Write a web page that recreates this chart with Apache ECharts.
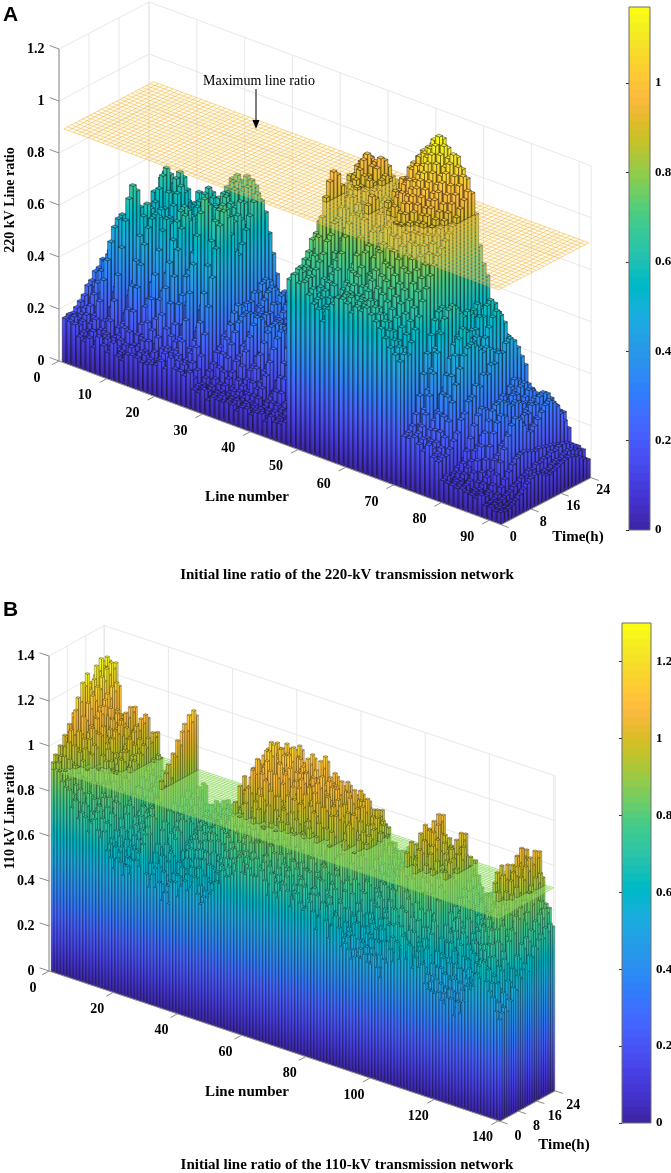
<!DOCTYPE html>
<html>
<head>
<meta charset="utf-8">
<title>Initial line ratio</title>
<script src="https://cdn.jsdelivr.net/npm/echarts@6.0.0/dist/echarts.min.js"></script>
<style>
  html, body { margin: 0; padding: 0; background: #fff; }
  #main { width: 671px; height: 1173px; }
</style>
</head>
<body>
<div id="main"></div>
<script>
// ---------- data ----------
var timeTicks = [0, 8, 16, 24];

// panel A : 220-kV network, 92 lines
var lineTicksA = [0, 10, 20, 30, 40, 50, 60, 70, 80, 90];
var ratioTicksA = [0, 0.2, 0.4, 0.6, 0.8, 1, 1.2];
var colorTicksA = [0, 0.2, 0.4, 0.6, 0.8, 1];
// daily peak ratio of each line
var peakA = [
  0.40,0.44,0.36,0.47,0.52,0.56,0.63,0.66,0.60,0.65,
  0.61,0.57,0.55,0.60,0.58,0.63,0.60,0.64,0.62,0.66,
  0.70,0.72,0.71,0.73,0.72,0.70,0.69,0.36,0.33,0.35,
  0.32,0.34,0.31,0.33,0.30,0.34,0.32,0.35,0.31,0.33,
  0.30,0.34,0.32,0.36,0.33,0.30,0.34,0.95,0.98,1.00,
  0.97,0.99,0.93,0.86,0.80,0.88,0.92,0.96,1.02,1.05,
  1.08,1.10,1.12,1.15,1.17,1.14,1.10,1.12,1.08,1.05,
  1.00,0.62,0.58,0.64,0.60,0.55,0.58,0.52,0.48,0.33,
  0.30,0.33,0.31,0.34,0.30,0.32,0.29,0.31,0.18,0.15,
  0.13,0.12
];
// ratio of each line at hour 0 (front row)
var nightA = [
  0.17,0.16,0.15,0.12,0.11,0.12,0.10,0.12,0.11,0.10,
  0.12,0.10,0.09,0.11,0.10,0.12,0.10,0.11,0.09,0.12,
  0.13,0.12,0.14,0.12,0.13,0.12,0.11,0.08,0.07,0.08,
  0.06,0.08,0.07,0.06,0.08,0.07,0.06,0.08,0.07,0.06,
  0.08,0.07,0.06,0.08,0.07,0.06,0.08,0.64,0.66,0.62,
  0.65,0.60,0.58,0.55,0.52,0.58,0.60,0.62,0.64,0.62,
  0.60,0.63,0.61,0.64,0.62,0.60,0.58,0.55,0.52,0.50,
  0.48,0.20,0.18,0.21,0.19,0.17,0.18,0.16,0.15,0.08,
  0.07,0.08,0.07,0.08,0.06,0.07,0.06,0.07,0.05,0.05,
  0.04,0.04
];
// hourly load shapes (0 = night level, 1 = peak)
var shapesA = [
  [0.00,0.03,0.02,0.08,0.15,0.22,0.35,0.40,0.52,0.55,0.66,0.62,0.74,0.72,0.81,0.80,0.90,0.88,0.97,1.00,0.95,0.85,0.72,0.60],
  [0.05,0.00,0.04,0.12,0.25,0.42,0.60,0.78,0.92,1.00,0.95,0.82,0.70,0.66,0.72,0.80,0.88,0.96,1.00,0.94,0.85,0.70,0.55,0.40],
  [0.02,0.06,0.00,0.04,0.10,0.08,0.18,0.30,0.26,0.40,0.48,0.45,0.58,0.66,0.62,0.75,0.84,0.80,0.92,1.00,0.96,0.88,0.76,0.70],
  [0.00,0.02,0.06,0.15,0.30,0.48,0.65,0.80,0.92,0.98,1.00,0.96,0.90,0.85,0.88,0.84,0.80,0.78,0.74,0.70,0.62,0.50,0.38,0.25],
  [0.00,0.04,0.02,0.10,0.18,0.26,0.36,0.44,0.52,0.58,0.64,0.68,0.72,0.76,0.80,0.85,0.90,0.95,1.00,0.97,0.80,0.55,0.40,0.30]
];
// which hourly shape each line follows
var shapeOfLineA = [
  0,2,1,0,3,2,0,1,2,0,
  1,3,0,2,1,0,2,3,1,0,
  2,0,1,2,0,3,1,0,2,1,
  3,0,2,1,0,2,3,0,1,2,
  0,1,3,2,0,1,2,0,2,1,
  0,2,0,1,2,0,2,1,0,2,
  0,0,2,4,4,4,4,4,4,4,
  4,3,1,3,0,3,1,3,0,2,
  1,0,2,3,1,0,2,1,3,0,
  2,1
];
var limitA = 0.9;

// panel B : 110-kV network, 140 lines
var lineTicksB = [0, 20, 40, 60, 80, 100, 120, 140];
var ratioTicksB = [0, 0.2, 0.4, 0.6, 0.8, 1, 1.2, 1.4];
var colorTicksB = [0, 0.2, 0.4, 0.6, 0.8, 1, 1.2];
var peakB = [
  1.22,1.28,1.30,1.27,1.18,1.12,1.05,1.08,1.02,1.10,
  1.06,0.98,1.04,1.08,1.00,0.95,1.02,0.92,0.86,0.82,
  0.88,0.84,0.80,0.86,0.83,0.88,0.90,0.85,1.17,0.84,
  0.80,0.86,0.78,0.82,0.76,0.80,0.74,0.78,0.82,0.80,
  0.78,0.82,0.76,0.80,0.84,0.88,0.86,0.82,0.90,0.98,
  1.04,1.08,1.12,1.10,1.15,1.18,1.12,1.16,1.20,1.14,
  1.10,1.17,1.19,1.12,1.08,1.15,1.10,1.06,1.12,1.16,
  1.09,1.04,1.10,1.13,1.07,1.02,1.08,1.11,1.05,1.00,
  1.06,1.09,1.03,0.98,1.04,1.07,1.01,0.96,1.00,0.97,
  0.88,0.85,0.90,0.86,0.82,0.88,0.84,0.80,0.86,0.83,
  0.90,1.00,0.92,1.04,0.95,1.08,0.98,1.06,0.94,1.02,
  0.90,0.98,1.03,0.88,0.96,1.00,0.86,0.82,0.78,0.84,
  0.80,0.76,0.82,0.79,0.74,0.80,0.77,0.83,0.95,1.00,
  0.92,1.05,0.98,1.08,1.02,1.06,0.96,0.90,0.82,0.75
];
var nightB = [
  0.93,0.90,0.88,0.86,0.84,0.80,0.76,0.78,0.72,0.75,
  0.70,0.66,0.72,0.74,0.68,0.64,0.70,0.62,0.58,0.55,
  0.60,0.56,0.52,0.58,0.55,0.60,0.62,0.57,0.70,0.56,
  0.52,0.58,0.50,0.54,0.48,0.52,0.46,0.55,0.58,0.52,
  0.56,0.60,0.54,0.58,0.62,0.56,0.52,0.50,0.54,0.58,
  0.60,0.62,0.64,0.66,0.68,0.66,0.70,0.72,0.74,0.70,
  0.72,0.75,0.70,0.68,0.73,0.76,0.70,0.66,0.72,0.68,
  0.64,0.70,0.73,0.66,0.62,0.68,0.71,0.65,0.60,0.66,
  0.69,0.63,0.58,0.64,0.67,0.61,0.56,0.62,0.65,0.58,
  0.54,0.56,0.52,0.50,0.48,0.52,0.50,0.54,0.51,0.47,
  0.53,0.50,0.46,0.52,0.49,0.60,0.55,0.62,0.57,0.64,
  0.58,0.63,0.55,0.60,0.52,0.56,0.50,0.48,0.46,0.43,
  0.48,0.45,0.42,0.47,0.44,0.40,0.45,0.42,0.48,0.50,
  0.52,0.56,0.62,0.58,0.64,0.60,0.56,0.52,0.48,0.45
];
var shapesB = [
  [0.00,0.10,0.05,0.20,0.15,0.32,0.28,0.45,0.40,0.58,0.52,0.70,0.62,0.75,0.68,0.82,0.78,0.90,0.84,0.96,0.88,1.00,0.92,0.97],
  [0.05,0.00,0.18,0.10,0.30,0.42,0.35,0.60,0.72,0.66,0.85,0.80,0.92,0.75,0.70,0.82,0.95,0.88,1.00,0.90,0.78,0.86,0.72,0.80],
  [0.00,0.08,0.14,0.06,0.22,0.18,0.36,0.30,0.50,0.44,0.55,0.62,0.48,0.70,0.66,0.80,0.74,0.86,0.92,0.84,0.98,0.90,1.00,0.94],
  [0.10,0.04,0.00,0.12,0.26,0.20,0.40,0.55,0.48,0.65,0.78,0.72,0.88,0.96,0.90,1.00,0.85,0.80,0.92,0.76,0.70,0.84,0.66,0.74]
];
var shapeOfLineB = [
  0,2,1,0,2,3,0,1,2,0,
  3,1,0,2,1,3,0,2,1,0,
  2,3,1,0,2,1,0,3,2,1,
  0,2,3,1,0,2,1,3,0,2,
  1,0,3,2,1,0,2,3,1,0,
  2,1,0,3,2,1,0,2,3,1,
  0,2,1,3,0,2,1,0,3,2,
  1,0,2,3,1,0,2,1,3,0,
  2,1,0,2,3,1,0,2,1,3,
  0,2,1,0,3,2,1,0,2,3,
  1,0,2,1,3,0,2,1,0,3,
  2,1,0,2,3,1,0,2,1,3,
  0,2,1,0,3,2,1,0,2,3,
  1,0,2,1,3,0,2,1,0,2
];
var limitB = 0.9;

// ---------- colours ----------
var PARULA = [
  '#3e26a8','#402ab4','#422ec0','#4332cb','#4537d5','#463cde','#4741e5','#4747eb',
  '#484df0','#4852f4','#4758f8','#465efb','#4563fd','#4269fe','#3e6fff','#3875fe',
  '#327cfc','#2f81fa','#2e87f7','#2d8cf3','#2b91ef','#2796eb','#259be8','#23a0e5',
  '#20a5e3','#1ca9df','#18addb','#12b1d6','#08b5d0','#01b8ca','#02bac3','#0bbdbd',
  '#19bfb6','#24c1ae','#2cc4a7','#31c69f','#37c897','#3fca8e','#4acb84','#57cc7a',
  '#64cd6f','#72cd64','#81cc59','#8fcb4e','#9dc943','#abc739','#b9c431','#c5c22a',
  '#d1bf27','#dcbd29','#e6bb2d','#f0ba36','#f8ba3d','#febe3c','#fec338','#fec934',
  '#fccf30','#fad62d','#f7dc2a','#f5e327','#f5e924','#f6ef20','#f7f51b','#f9fb15'
];
var PAR_RGB = PARULA.map(function (h) {
  return [parseInt(h.slice(1, 3), 16), parseInt(h.slice(3, 5), 16), parseInt(h.slice(5, 7), 16)];
});
var STOPS = PARULA.map(function (c, i) { return { offset: i / 63, color: c }; });
var BANDS = [];
PARULA.forEach(function (c, i) {
  BANDS.push({ offset: i / 64, color: c }, { offset: (i + 1) / 64, color: c });
});
function parula(f) {
  f = Math.max(0, Math.min(1, f)) * 63;
  var i = Math.min(62, Math.floor(f)), u = f - i, a = PAR_RGB[i], b = PAR_RGB[i + 1];
  return 'rgb(' + Math.round(a[0] + (b[0] - a[0]) * u) + ',' +
    Math.round(a[1] + (b[1] - a[1]) * u) + ',' + Math.round(a[2] + (b[2] - a[2]) * u) + ')';
}

var SERIF = '"Liberation Serif", "Times New Roman", serif';
var GRID_C = '#e2e2e2';
var AXIS_C = '#8c8c8c';

// ---------- view settings of the two 3-D boxes ----------
var PA = {
  grid: 0, lineMax: 92.5, zMax: 1.2, cMax: 1.17, hours: 24, nLines: peakA.length,
  lx: 4.78, ly: 1.77, tx: 3.75, ty: -1.96, left: 59, z0: 361, zs: 260,
  lineTicks: lineTicksA, zTicks: ratioTicksA, limit: limitA,
  lineLabelOff: [-22, 17], timeLabelOff: [12, 13],
  barW: 0.8, edge: 'rgba(15,15,15,0.85)', edgeW: 0.5,
  planeFill: 'rgba(255,240,190,0.20)', planeStroke: 'rgba(244,178,50,0.85)'
};
var PB = {
  grid: 1, lineMax: 140.5, zMax: 1.4, cMax: 1.30, hours: 24, nLines: peakB.length,
  lx: 3.21, ly: 1.07, tx: 2.3, ty: -1.27, left: 49, z0: 971, zs: 225,
  lineTicks: lineTicksB, zTicks: ratioTicksB, limit: limitB,
  lineLabelOff: [-16, 17], timeLabelOff: [18, 15],
  barW: 0.8, edge: 'rgba(15,15,15,0.8)', edgeW: 0.35,
  planeFill: 'rgba(200,245,160,0.30)', planeStroke: 'rgba(120,210,70,0.85)'
};

function projector(P, api) {
  return function (l, t, z) {
    var p = api.coord([l, z]);
    return [p[0] + P.tx * t, p[1] + P.ly * l + P.ty * t];
  };
}
function unit(v) { var n = Math.sqrt(v[0] * v[0] + v[1] * v[1]); return [v[0] / n, v[1] / n]; }
function seg(kids, a, b, color, w) {
  kids.push({ type: 'line', silent: true,
    shape: { x1: a[0], y1: a[1], x2: b[0], y2: b[1] },
    style: { stroke: color, lineWidth: w } });
}
function label(kids, txt, x, y, align) {
  kids.push({ type: 'text', silent: true,
    style: { text: txt, x: x, y: y, align: align, verticalAlign: 'middle',
      font: 'bold 14px ' + SERIF, fill: '#000' } });
}

// back walls and floor grid
function frameRender(P) {
  return function (params, api) {
    var pr = projector(P, api), kids = [], T = P.hours, L = P.lineMax;
    timeTicks.forEach(function (t) { seg(kids, pr(0, t, 0), pr(0, t, P.zMax), GRID_C, 0.8); });
    P.zTicks.forEach(function (z) {
      seg(kids, pr(0, 0, z), pr(0, T, z), GRID_C, 0.8);
      seg(kids, pr(0, T, z), pr(L, T, z), GRID_C, 0.8);
    });
    P.lineTicks.concat([L]).forEach(function (l) { seg(kids, pr(l, T, 0), pr(l, T, P.zMax), GRID_C, 0.8); });
    P.lineTicks.forEach(function (l) { seg(kids, pr(l, 0, 0), pr(l, T, 0), GRID_C, 0.8); });
    timeTicks.forEach(function (t) { seg(kids, pr(0, t, 0), pr(L, t, 0), GRID_C, 0.8); });
    return { type: 'group', children: kids };
  };
}

// axis lines, ticks and tick labels
function axesRender(P) {
  return function (params, api) {
    var pr = projector(P, api), kids = [], T = P.hours, L = P.lineMax;
    var uL = unit([P.lx, P.ly]), uT = unit([P.tx, P.ty]);
    seg(kids, pr(0, 0, 0), pr(0, 0, P.zMax), AXIS_C, 1);
    seg(kids, pr(0, 0, 0), pr(L, 0, 0), AXIS_C, 1);
    seg(kids, pr(L, 0, 0), pr(L, T, 0), AXIS_C, 1);
    P.zTicks.forEach(function (z) {
      var a = pr(0, 0, z), b = [a[0] - uL[0] * 10, a[1] - uL[1] * 10];
      seg(kids, a, b, AXIS_C, 1);
      label(kids, String(z), b[0] - 5, a[1], 'right');
    });
    P.lineTicks.forEach(function (l) {
      var a = pr(l, 0, 0), b = [a[0] - uT[0] * 8, a[1] - uT[1] * 8];
      seg(kids, a, b, AXIS_C, 1);
      label(kids, String(l), a[0] + P.lineLabelOff[0], a[1] + P.lineLabelOff[1], 'center');
    });
    timeTicks.forEach(function (t) {
      var a = pr(L, t, 0), b = [a[0] + uL[0] * 8, a[1] + uL[1] * 8];
      seg(kids, a, b, AXIS_C, 1);
      label(kids, String(t), a[0] + P.timeLabelOff[0], a[1] + P.timeLabelOff[1], 'center');
    });
    return { type: 'group', children: kids };
  };
}

// one 3-D bar (front face, right face, top)
function barsRender(P) {
  var h = P.barW / 2;
  return function (params, api) {
    var pr = projector(P, api);
    var l = api.value(0), t = api.value(1), za = api.value(2), zb = api.value(3), withTop = api.value(4);
    var l0 = l - h, l1 = l + h, t0 = t - h, t1 = t + h;
    var a = pr(l0, t0, za), b = pr(l1, t0, za), c = pr(l1, t1, za);
    var a1 = pr(l0, t0, zb), b1 = pr(l1, t0, zb), c1 = pr(l1, t1, zb), d1 = pr(l0, t1, zb);
    var gF = new echarts.graphic.LinearGradient(0, pr(l0, t0, 0)[1], 0, pr(l0, t0, P.cMax)[1], STOPS, true);
    var gS = new echarts.graphic.LinearGradient(0, pr(l1, t, 0)[1], 0, pr(l1, t, P.cMax)[1], STOPS, true);
    var z2 = params.dataIndex;
    var kids = [
      { type: 'polygon', z2: z2, silent: true, shape: { points: [a, b, b1, a1] },
        style: { fill: gF, stroke: P.edge, lineWidth: P.edgeW } },
      { type: 'polygon', z2: z2, silent: true, shape: { points: [b, c, c1, b1] },
        style: { fill: gS, stroke: P.edge, lineWidth: P.edgeW } }
    ];
    if (withTop) {
      kids.push({ type: 'polygon', z2: z2, silent: true, shape: { points: [a1, b1, c1, d1] },
        style: { fill: parula(zb / P.cMax), stroke: P.edge, lineWidth: P.edgeW } });
    }
    return { type: 'group', children: kids };
  };
}

// maximum line ratio plane
function planeRender(P) {
  return function (params, api) {
    var pr = projector(P, api), z = P.limit, n = P.nLines, T = P.hours, kids = [];
    kids.push({ type: 'polygon', silent: true,
      shape: { points: [pr(1, 0, z), pr(n, 0, z), pr(n, T, z), pr(1, T, z)] },
      style: { fill: P.planeFill } });
    for (var l = 1; l <= n; l++) seg(kids, pr(l, 0, z), pr(l, T, z), P.planeStroke, 0.6);
    for (var t = 0; t <= T; t++) seg(kids, pr(1, t, z), pr(n, t, z), P.planeStroke, 0.6);
    return { type: 'group', children: kids };
  };
}

function colorbarRender(cMax) {
  return function (params, api) {
    var p0 = api.coord([0, 0]), p1 = api.coord([1, cMax]);
    return { type: 'rect', silent: true,
      shape: { x: p0[0], y: p1[1], width: p1[0] - p0[0], height: p0[1] - p1[1] },
      style: { fill: new echarts.graphic.LinearGradient(0, p0[1], 0, p1[1], BANDS, true),
        stroke: '#6f6f6f', lineWidth: 1 } };
  };
}

// cell (line i, hour j): between the line's night level and its peak, following its hourly shape
function buildBars(peak, night, shapes, shapeOfLine, limit) {
  var below = [], above = [];
  for (var j = 23; j >= 0; j--) {
    for (var i = 0; i < peak.length; i++) {
      var v = night[i] + (peak[i] - night[i]) * shapes[shapeOfLine[i]][j];
      below.push([i + 1, j + 0.5, 0, Math.min(v, limit), v > limit ? 0 : 1]);
      if (v > limit) above.push([i + 1, j + 0.5, limit, v, 1]);
    }
  }
  return { below: below, above: above };
}
var barsA = buildBars(peakA, nightA, shapesA, shapeOfLineA, limitA);
var barsB = buildBars(peakB, nightB, shapesB, shapeOfLineB, limitB);

function panelSeries(P, bars) {
  var base = { type: 'custom', coordinateSystem: 'cartesian2d', xAxisIndex: P.grid, yAxisIndex: P.grid,
    clip: false, silent: true, animation: false, progressive: 0, encode: { x: 0, y: 3 } };
  return [
    Object.assign({}, base, { z: 1, data: [[0, 0, 0, 0]], renderItem: frameRender(P) }),
    Object.assign({}, base, { z: 2, data: bars.below, renderItem: barsRender(P) }),
    Object.assign({}, base, { z: 3, data: [[0, 0, 0, 0]], renderItem: planeRender(P) }),
    Object.assign({}, base, { z: 4, data: bars.above, renderItem: barsRender(P) }),
    Object.assign({}, base, { z: 5, data: [[0, 0, 0, 0]], renderItem: axesRender(P) })
  ];
}

function hiddenX(i, max) { return { gridIndex: i, type: 'value', min: 0, max: max, show: false }; }
function hiddenY(i, max) { return { gridIndex: i, type: 'value', min: 0, max: max, show: false }; }
function colorAxis(i, max, ticks) {
  return { gridIndex: i, type: 'value', min: 0, max: max, interval: 0.2, position: 'right',
    axisLine: { show: false }, splitLine: { show: false },
    axisTick: { show: true, inside: true, length: 3, customValues: ticks, lineStyle: { color: '#333' } },
    axisLabel: { customValues: ticks, margin: 5, color: '#000',
      fontFamily: SERIF, fontWeight: 'bold', fontSize: 13 } };
}

var chart = echarts.init(document.getElementById('main'), null, { renderer: 'canvas' });

var option = {
  animation: false,
  backgroundColor: '#fff',
  grid: [
    { left: PA.left, top: PA.z0 - PA.zMax * PA.zs, width: PA.lineMax * PA.lx, height: PA.zMax * PA.zs, containLabel: false, outerBoundsMode: 'none' },
    { left: PB.left, top: PB.z0 - PB.zMax * PB.zs, width: PB.lineMax * PB.lx, height: PB.zMax * PB.zs, containLabel: false, outerBoundsMode: 'none' },
    { left: 629, top: 7, width: 21, height: 523, containLabel: false, outerBoundsMode: 'none' },
    { left: 622, top: 623, width: 29, height: 500, containLabel: false, outerBoundsMode: 'none' }
  ],
  xAxis: [hiddenX(0, PA.lineMax), hiddenX(1, PB.lineMax), hiddenX(2, 1), hiddenX(3, 1)],
  yAxis: [hiddenY(0, PA.zMax), hiddenY(1, PB.zMax), colorAxis(2, PA.cMax, colorTicksA), colorAxis(3, PB.cMax, colorTicksB)],
  series: panelSeries(PA, barsA).concat(panelSeries(PB, barsB)).concat([
    { type: 'custom', coordinateSystem: 'cartesian2d', xAxisIndex: 2, yAxisIndex: 2, silent: true,
      data: [[0, 0]], renderItem: colorbarRender(PA.cMax) },
    { type: 'custom', coordinateSystem: 'cartesian2d', xAxisIndex: 3, yAxisIndex: 3, silent: true,
      data: [[0, 0]], renderItem: colorbarRender(PB.cMax) }
  ]),
  graphic: [
    { type: 'text', x: 3, y: 15, z: 10, style: { text: 'A', align: 'left', verticalAlign: 'middle', font: 'bold 21px "Liberation Sans", Arial, sans-serif', fill: '#000' } },
    { type: 'text', x: 10, y: 200, z: 10, rotation: Math.PI / 2, style: { text: '220 kV Line ratio', align: 'center', verticalAlign: 'middle', font: 'bold 14px ' + SERIF, fill: '#000' } },
    { type: 'text', x: 247, y: 497, z: 10, style: { text: 'Line number', align: 'center', verticalAlign: 'middle', font: 'bold 15px ' + SERIF, fill: '#000' } },
    { type: 'text', x: 578, y: 537, z: 10, style: { text: 'Time(h)', align: 'center', verticalAlign: 'middle', font: 'bold 15px ' + SERIF, fill: '#000' } },
    { type: 'text', x: 347, y: 575, z: 10, style: { text: 'Initial line ratio of the 220-kV transmission network', align: 'center', verticalAlign: 'middle', font: 'bold 15px ' + SERIF, fill: '#000' } },
    { type: 'text', x: 259, y: 81, z: 10, style: { text: 'Maximum line ratio', align: 'center', verticalAlign: 'middle', font: '14px ' + SERIF, fill: '#000' } },
    { type: 'line', z: 10, shape: { x1: 256, y1: 89, x2: 256, y2: 124 }, style: { stroke: '#000', lineWidth: 1 } },
    { type: 'polygon', z: 10, shape: { points: [[252.5, 120], [259.5, 120], [256, 129]] }, style: { fill: '#000' } },

    { type: 'text', x: 3, y: 610, z: 10, style: { text: 'B', align: 'left', verticalAlign: 'middle', font: 'bold 21px "Liberation Sans", Arial, sans-serif', fill: '#000' } },
    { type: 'text', x: 10, y: 817, z: 10, rotation: Math.PI / 2, style: { text: '110 kV Line ratio', align: 'center', verticalAlign: 'middle', font: 'bold 14px ' + SERIF, fill: '#000' } },
    { type: 'text', x: 247, y: 1092, z: 10, style: { text: 'Line number', align: 'center', verticalAlign: 'middle', font: 'bold 15px ' + SERIF, fill: '#000' } },
    { type: 'text', x: 564, y: 1145, z: 10, style: { text: 'Time(h)', align: 'center', verticalAlign: 'middle', font: 'bold 15px ' + SERIF, fill: '#000' } },
    { type: 'text', x: 347, y: 1165, z: 10, style: { text: 'Initial line ratio of the 110-kV transmission network', align: 'center', verticalAlign: 'middle', font: 'bold 15px ' + SERIF, fill: '#000' } }
  ]
};
chart.setOption(option);
</script>
</body>
</html>
